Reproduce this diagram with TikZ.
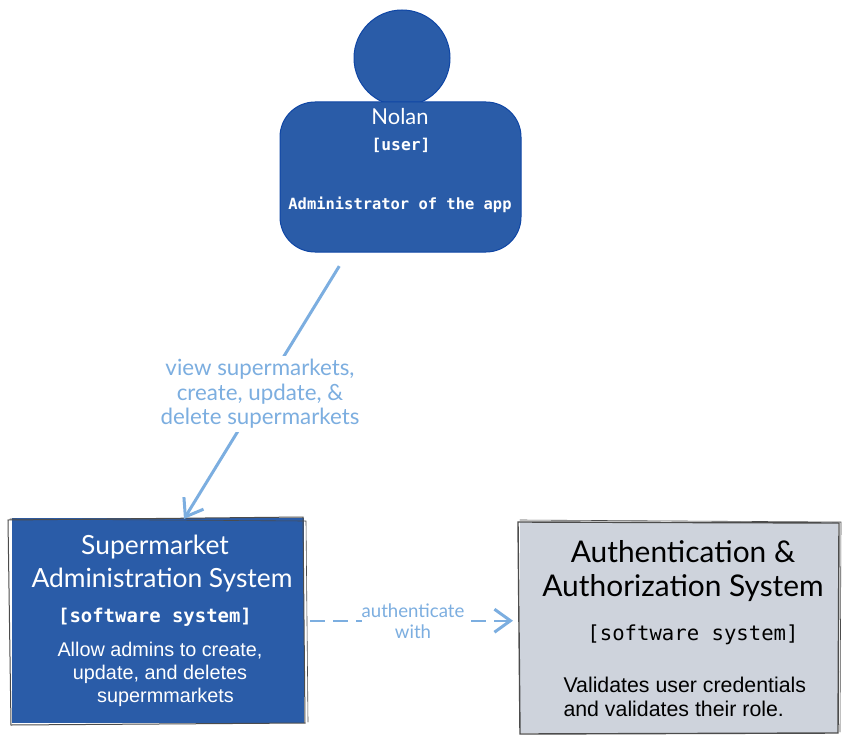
\documentclass[tikz,border=0pt]{standalone}
\usepackage{fontspec}
\setmainfont{Liberation Sans}
\setmonofont{DejaVu Sans Mono}
\newfontfamily\sketchfont{Lato}
\usetikzlibrary{arrows.meta}
\definecolor{bluefill}{HTML}{2A5CA8}
\definecolor{blueedge}{HTML}{0F46A5}
\definecolor{linkblue}{HTML}{7CAEE0}
\definecolor{greyfill}{HTML}{CED3DC}
\tikzset{
    px/.style={x=1bp,y=-1bp},
    sysbox/.style={rectangle,anchor=north west,inner sep=0},
    headtxt/.style={font=\sketchfont\fontsize{#1}{#1}\selectfont},
    monotxt/.style={font=\ttfamily\bfseries\fontsize{#1}{#1}\selectfont},
    linktxt/.style={font=\sketchfont\fontsize{#1}{24.5}\selectfont,text=linkblue,align=center,fill=white,inner sep=0},
    link/.style={draw=linkblue,line width=3bp,-{Straight Barb[length=16bp,width=23bp,line width=3bp]}},
    sketchline/.style={draw=black!70,line width=#1,line cap=round}
}
\begin{document}
\begin{tikzpicture}[px]
    \useasboundingbox (0,0) rectangle (851,743);
    % person
    \node[circle,draw=blueedge,fill=bluefill,line width=1bp,minimum size=96bp,inner sep=0] (head) at (402,58) {};
    \node[rectangle,rounded corners=35bp,draw=blueedge,fill=bluefill,line width=1bp,minimum width=241bp,minimum height=150bp,inner sep=0] (body) at (400.5,177) {};
    \node[headtxt=22,text=white] (nolan) at (400,117) {Nolan};
    \node[monotxt=16.3,text=white] (user) at (401,145) {[user]};
    \node[monotxt=15.5,text=white] (role) at (400,205) {Administrator of the app};
    % left system
    \node[sysbox,fill=bluefill,minimum width=292bp,minimum height=205bp] (admin) at (12,518) {};
    \draw[sketchline=1bp] (8,520) -- (303,517) -- (305,723) -- (11,725) -- cycle;
    \draw[sketchline=0.6bp] (10,519) -- (306,521) -- (308,722);
    \node[headtxt=26.5,text=white] (adminname) at (155,547) {Supermarket};
    \node[headtxt=26.5,text=white] (adminsys) at (162,580) {Administration System};
    \node[monotxt=19,text=white] (admintype) at (155,617) {[software system]};
    \node[text=white,align=center,font=\fontsize{19.9}{23}\selectfont] (admindesc) at (160,674) {Allow admins to create,\\update, and deletes\\\ \ supermmarkets};
    % right system
    \node[sysbox,fill=greyfill,minimum width=318bp,minimum height=211bp] (auth) at (520,522) {};
    \draw[sketchline=1.4bp] (518,522) -- (839,523) -- (838,733) -- (520,734) -- cycle;
    \draw[sketchline=0.6bp] (520,520) -- (841,522) -- (840,732);
    \node[headtxt=30,text=black] (authname) at (683,552) {Authentication \&};
    \node[headtxt=30,text=black] (authsys) at (683,588) {Authorization System};
    \node[monotxt=20.7,text=black] (authtype) at (693,635) {\mdseries [software system]};
    \node[anchor=west,align=left,font=\fontsize{21.4}{24}\selectfont] (authdesc) at (560,697) {Validates user credentials\\and validates their role.};
    % links
    \coordinate (target) at (184,519);
    \draw[link,shorten <=16bp] (body.235) -- (target);
    \node[linktxt=22.4,minimum height=76bp] (viewlbl) at (260,394) {view supermarkets,\\create, update, \&\\delete supermarkets};
    \draw[link,dash pattern=on 15bp off 8bp,line width=2.4bp,shorten <=6bp,shorten >=7bp] (admin.east) -- (admin.east -| auth.west);
    \node[linktxt=18.7,font=\sketchfont\fontsize{18.7}{21}\selectfont] (authlbl) at (413,621) {authenticate\\with};
\end{tikzpicture}
\end{document}
